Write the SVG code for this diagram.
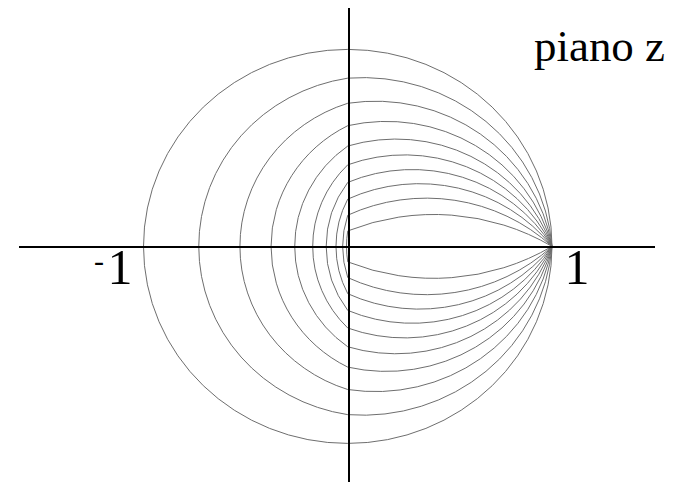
<svg xmlns="http://www.w3.org/2000/svg" width="673" height="484" viewBox="0 0 673 484">
<style>
  .c { fill: none; stroke: #6e6e6e; stroke-width: 1; vector-effect: non-scaling-stroke; }
  .ax { stroke: #000; stroke-width: 2; fill: none; }
  .t { font-family: "Liberation Serif", "Times New Roman", serif; fill: #000; }
</style>
<rect width="673" height="484" fill="#fff"/>
<g id="curves" transform="translate(347.75,246.4) scale(204.25,-197)">
  <g id="upper">
    <path class="c" d="M -1 0 A 1 1 0 0 0 1 0"/>
    <path class="c" d="M -0.729454 0 A 0.864727 0.864727 0 0 0 0 0.854081 A 0.930134 0.930134 0 0 0 1 0"/>
    <path class="c" d="M -0.527864 0 A 0.763932 0.763932 0 0 0 0 0.726543 A 0.875763 0.875763 0 0 0 1 0"/>
    <path class="c" d="M -0.375525 0 A 0.687763 0.687763 0 0 0 0 0.612801 A 0.835036 0.835036 0 0 0 1 0"/>
    <path class="c" d="M -0.259616 0 A 0.629808 0.629808 0 0 0 0 0.509525 A 0.807253 0.807253 0 0 0 1 0"/>
    <path class="c" d="M -0.171573 0 A 0.585786 0.585786 0 0 0 0 0.414214 A 0.793097 0.793097 0 0 0 1 0"/>
    <path class="c" d="M -0.105573 0 A 0.552786 0.552786 0 0 0 0 0.324920 A 0.795490 0.795490 0 0 0 1 0"/>
    <path class="c" d="M -0.057638 0 A 0.528819 0.528819 0 0 0 0 0.240079 A 0.822276 0.822276 0 0 0 1 0"/>
    <path class="c" d="M -0.025086 0 A 0.512543 0.512543 0 0 0 0 0.158384 A 0.895977 0.895977 0 0 0 1 0"/>
    <path class="c" d="M -0.006194 0 A 0.503097 0.503097 0 0 0 0 0.078702 A 1.110776 1.110776 0 0 0 1 0"/>
  </g>
  <use id="lower" href="#upper" transform="scale(1,-1)"/>
</g>
<g id="axes">
  <line class="ax" x1="19" y1="247" x2="655" y2="247"/>
  <line class="ax" x1="349" y1="8" x2="349" y2="482"/>
</g>
<g id="labels">
  <text class="t" x="534" y="61" font-size="44" textLength="131" lengthAdjust="spacingAndGlyphs">piano z</text>
  <text class="t" font-size="50"><tspan x="94" y="271" font-size="30">-</tspan><tspan x="107.5" y="284">1</tspan></text>
  <text class="t" x="564.5" y="284" font-size="50">1</text>
</g>
</svg>
